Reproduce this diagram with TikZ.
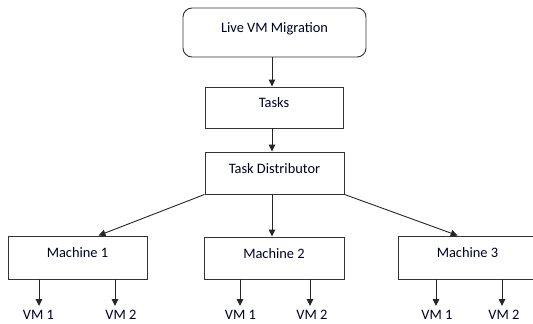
\documentclass[tikz,border=0pt]{standalone}
\usepackage{fontspec}
\setmainfont{Carlito}
\usetikzlibrary{arrows.meta,calc}
\begin{document}
\begin{tikzpicture}[x=1pt,y=-1pt,
  box/.style={draw=black!80, line width=0.9pt, fill=white, inner sep=0pt,
    text height=6pt, text depth=6pt, font=\fontsize{14.4}{17}\selectfont, text=black!85!blue},
  vmlabel/.style={inner sep=0pt, font=\fontsize{14.4}{17}\selectfont, text=black!85!blue, anchor=north},
  arr/.style={draw=black!85, line width=0.9pt, -{Triangle[length=7pt,width=6.5pt]}}]
\useasboundingbox (0,0) rectangle (533,324);
\node[box, rounded corners=9pt, minimum width=183pt, minimum height=49pt] (live) at (274.5,32.5) {Live VM Migration};
\node[box, minimum width=138pt, minimum height=41pt] (tasks) at (274,107.5) {Tasks};
\node[box, minimum width=139pt, minimum height=42pt] (dist) at (274.5,173) {Task Distributor};
\node[box, minimum width=139pt, minimum height=43pt] (m1) at (77.5,257.5) {Machine 1};
\node[box, minimum width=140pt, minimum height=42pt] (m2) at (274,258) {Machine 2};
\node[box, minimum width=139pt, minimum height=43pt] (m3) at (467.5,257.5) {Machine 3};
\node[vmlabel] (v11) at (38.5,310) {VM 1};
\node[vmlabel] (v12) at (121,310) {VM 2};
\node[vmlabel] (v21) at (240.5,310) {VM 1};
\node[vmlabel] (v22) at (312,310) {VM 2};
\node[vmlabel] (v31) at (437,310) {VM 1};
\node[vmlabel] (v32) at (504,310) {VM 2};
\coordinate (e11) at (39,306);
\coordinate (e12) at (115,306);
\coordinate (e21) at (240,306);
\coordinate (e22) at (310,306);
\coordinate (e31) at (436,306);
\coordinate (e32) at (502,306);
\draw[arr] (live.south -| 272,0) -- (tasks.north -| 272,0);
\draw[arr] (tasks.south -| 272,0) -- (dist.north -| 272,0);
\draw[arr] (dist.south -| 272,0) -- (m2.north -| 272,0);
\draw[arr] (dist.south west) -- ($(m1.north west)!0.65!(m1.north east)$);
\draw[arr] (dist.south east) -- ($(m3.north west)!0.43!(m3.north east)$);
\foreach \m/\e in {m1/e11, m1/e12, m2/e21, m2/e22, m3/e31, m3/e32}
  \draw[arr] (\m.south -| \e) -- (\e);
\end{tikzpicture}
\end{document}
